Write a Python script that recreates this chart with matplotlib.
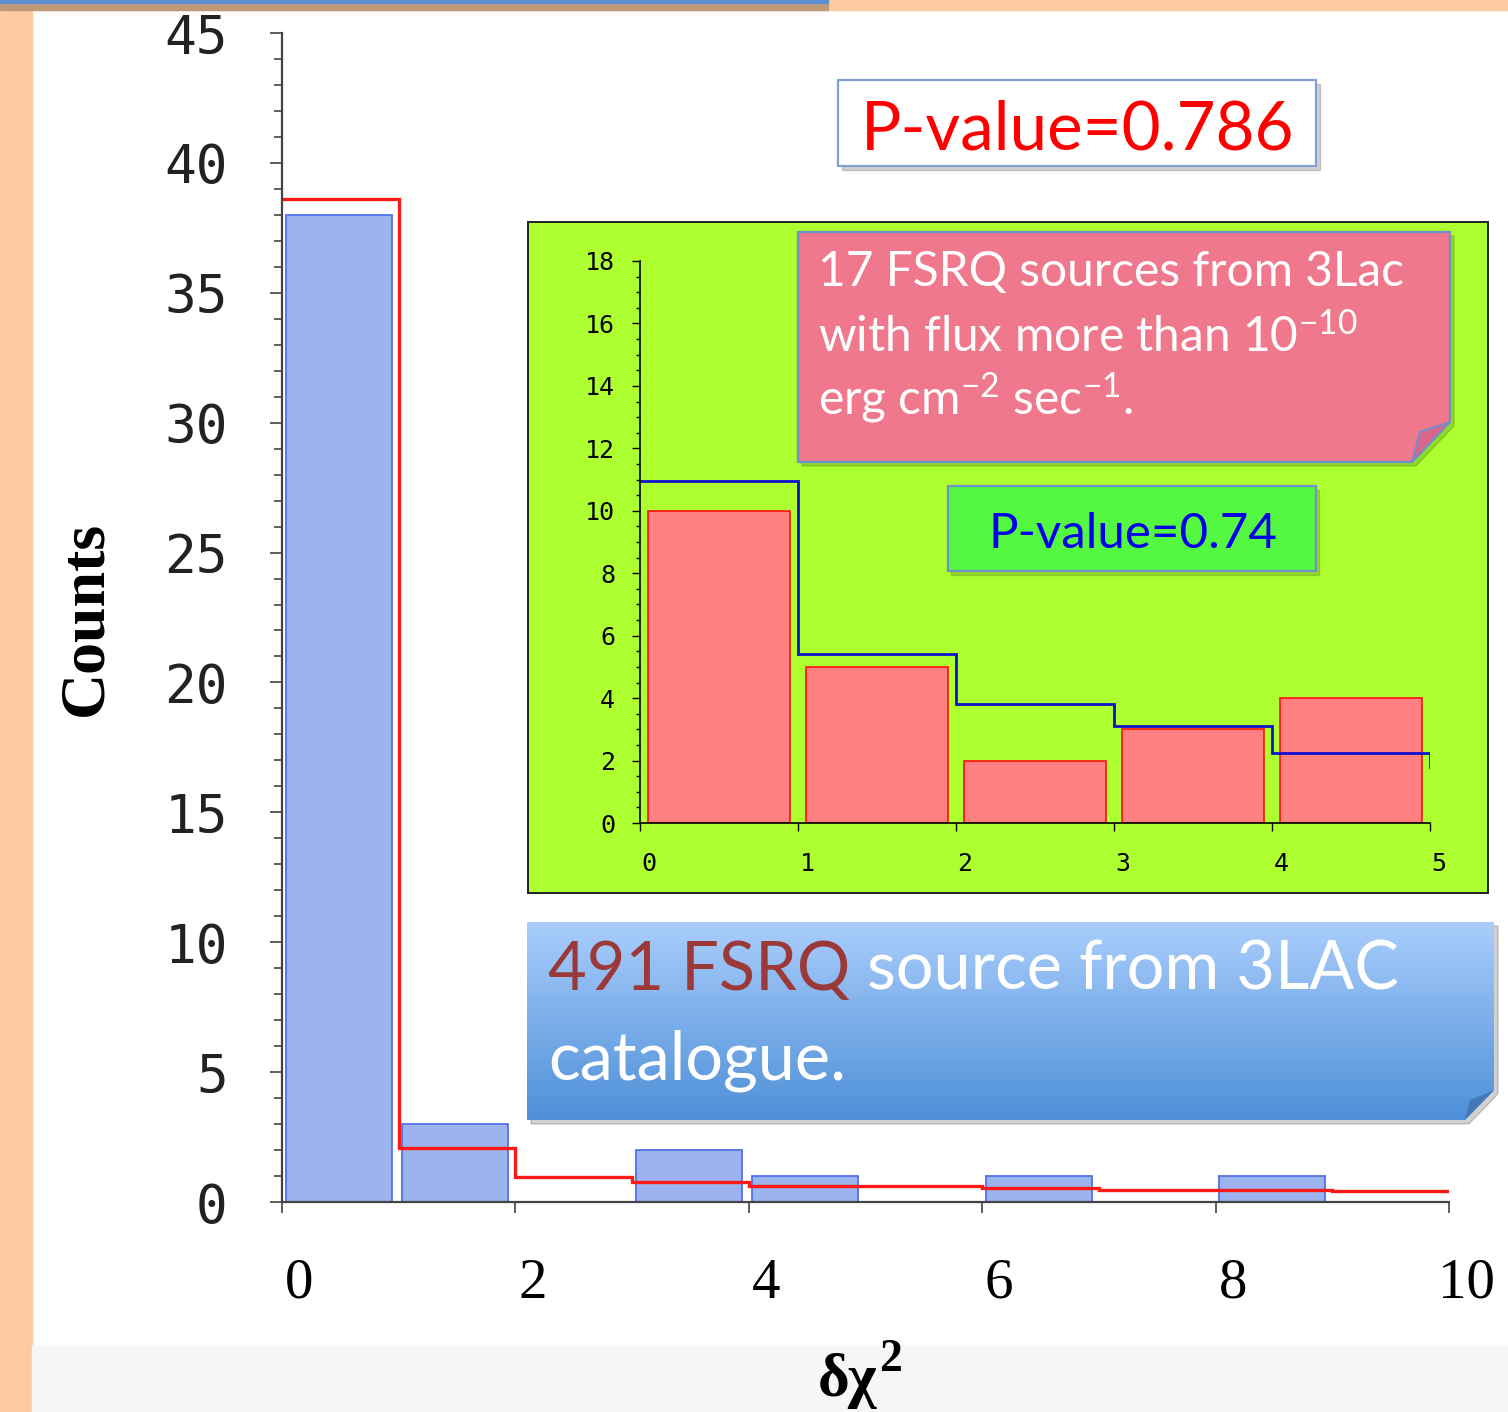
import numpy as np
import matplotlib
matplotlib.use('Agg')
import matplotlib.pyplot as plt
import matplotlib.ticker as plticker
import matplotlib.transforms as mtransforms
from matplotlib.patches import Rectangle, Polygon
from matplotlib.colors import LinearSegmentedColormap

plt.rcParams['mathtext.fontset'] = 'custom'
plt.rcParams['mathtext.rm'] = 'Lato'
plt.rcParams['mathtext.it'] = 'Lato:italic'
plt.rcParams['mathtext.bf'] = 'Lato:bold'

# main histogram: 491 FSRQ sources
main_edges = np.arange(0, 11)
main_counts = np.array([38, 3, 0, 2, 1, 0, 1, 0, 1, 0])
main_expected = np.array([38.6, 2.07, 0.96, 0.78, 0.62, 0.62, 0.55, 0.47, 0.48, 0.42])

# inset histogram: 17 bright FSRQ sources
inset_edges = np.arange(0, 6)
inset_counts = np.array([10, 5, 2, 3, 4])
inset_expected = np.array([10.95, 5.4, 3.8, 3.1, 2.25])
inset_tail = 1.8

main_pvalue = "P-value=0.786"
inset_pvalue = "P-value=0.74"

W, H = 1508, 1412
def fx(px): return px / W
def fy(py): return 1 - py / H

fig = plt.figure(figsize=(W / 100, H / 100), dpi=100)

# slide background
fig.patches.append(Rectangle((0, 0), fx(32), 1, transform=fig.transFigure,
                             color='#fcca9f', zorder=-2))
fig.patches.append(Rectangle((0, fy(10)), 1, 10 / H, transform=fig.transFigure,
                             color='#fcca9f', zorder=-2))
fig.patches.append(Rectangle((0, fy(10)), fx(828), 7 / H, transform=fig.transFigure,
                             color='#c09a78', zorder=-1))
fig.patches.append(Rectangle((0, fy(3)), fx(828), 3 / H, transform=fig.transFigure,
                             color='#5b8fd0', zorder=-1))
fig.patches.append(Rectangle((fx(32), 0), 1, 67 / H, transform=fig.transFigure,
                             color='#f6f6f6', zorder=-2))

# ---- main axes
ax = fig.add_axes([fx(282), fy(1202), fx(1449) - fx(282), (1202 - 33) / H])
ax.set_facecolor('none')
ax.set_xlim(0, 10)
ax.set_ylim(0, 45)
for s in ['top', 'right']:
    ax.spines[s].set_visible(False)
for s in ['left', 'bottom']:
    ax.spines[s].set_color('#444444')
    ax.spines[s].set_linewidth(1.6)

nz = main_counts > 0
ax.bar(main_edges[:-1][nz] + 0.03, main_counts[nz], width=0.91, align='edge',
       color='#9db3ee', edgecolor='#4f72e8', linewidth=1.3)
ax.stairs(main_expected, main_edges, baseline=None, color='#ff1a1a', linewidth=2.4)

ax.xaxis.set_major_locator(plticker.MultipleLocator(2))
ax.yaxis.set_major_locator(plticker.MultipleLocator(5))
ax.yaxis.set_minor_locator(plticker.MultipleLocator(1))
ax.tick_params(axis='y', which='major', direction='out', length=9, width=1.2,
               color='#444444', pad=30, labelsize=38)
ax.tick_params(axis='y', which='minor', direction='out', length=6, width=1.2,
               color='#444444')
ax.tick_params(axis='x', which='major', direction='out', length=8, width=1.2,
               color='#444444', pad=32, labelsize=41)
for lab in ax.get_yticklabels():
    lab.set_family('DejaVu Sans Mono')
    lab.set_color('#222222')
offset = mtransforms.ScaledTranslation(0.17, 0, fig.dpi_scale_trans)
for lab in ax.get_xticklabels():
    lab.set_family('Liberation Serif')
    lab.set_transform(lab.get_transform() + offset)

fig.text(fx(86), fy(618), 'Counts', rotation=90, ha='center', va='center',
         family='Liberation Serif', weight='bold', size=46)
t = fig.text(fx(818), fy(1396), 'δχ', ha='left', va='baseline',
             family='Liberation Serif', weight='bold', size=44)
ax.annotate('2', xy=(1, 1), xycoords=t, xytext=(1, 10), textcoords='offset points',
            ha='left', va='top', family='Liberation Serif', weight='bold', size=33,
            annotation_clip=False)

# ---- P-value box of the main histogram
fig.patches.append(Rectangle((fx(842), fy(170)), fx(478), 86 / H, transform=fig.transFigure,
                             color='#000000', alpha=0.18, zorder=2))
fig.patches.append(Rectangle((fx(838), fy(166)), fx(478), 86 / H, transform=fig.transFigure,
                             facecolor='white', edgecolor='#7fa0d2', linewidth=1.6, zorder=2))
fig.text(fx(1078), fy(130), main_pvalue, ha='center', va='center', color='#ff0000',
         family='Lato', size=48.5, zorder=3)

# ---- inset
axg = fig.add_axes([fx(528), fy(893), (1488 - 528) / W, (893 - 222) / H], zorder=1)
axg.set_facecolor('#adff2f')
axg.set_xticks([])
axg.set_yticks([])
for s in axg.spines.values():
    s.set_color('#222222')
    s.set_linewidth(1.4)

axi = fig.add_axes([fx(640), fy(823), (1430 - 640) / W, (823 - 261) / H], zorder=2)
axi.set_facecolor('none')
axi.set_xlim(0, 5)
axi.set_ylim(0, 18)
for s in ['top', 'right']:
    axi.spines[s].set_visible(False)
for s in ['left', 'bottom']:
    axi.spines[s].set_color('black')
    axi.spines[s].set_linewidth(1.2)
axi.bar(inset_edges[:-1] + 0.05, inset_counts, width=0.9, align='edge',
        color='#ff8080', edgecolor='#ff1010', linewidth=1.2)
axi.stairs(inset_expected, inset_edges, baseline=None, color='#1010cc', linewidth=2)
axi.plot([inset_edges[-1]] * 2, [inset_expected[-1], inset_tail], color='#1010cc',
         linewidth=2)
axi.xaxis.set_major_locator(plticker.MultipleLocator(1))
axi.yaxis.set_major_locator(plticker.MultipleLocator(2))
axi.yaxis.set_minor_locator(plticker.MultipleLocator(0.5))
axi.tick_params(axis='both', which='major', direction='out', length=6, width=1,
                labelsize=18)
axi.tick_params(axis='y', which='major', pad=12)
axi.tick_params(axis='x', which='major', pad=15)
axi.tick_params(axis='y', which='minor', direction='out', length=3, width=1)
for lab in axi.get_yticklabels():
    lab.set_family('DejaVu Sans Mono')
ioff = mtransforms.ScaledTranslation(0.09, 0, fig.dpi_scale_trans)
for lab in axi.get_xticklabels():
    lab.set_family('DejaVu Sans Mono')
    lab.set_transform(lab.get_transform() + ioff)

# pink note with folded corner
def px_poly(pts, **kw):
    return Polygon([(fx(x), fy(y)) for x, y in pts], closed=True,
                   transform=fig.transFigure, **kw)

fig.patches.append(px_poly([(802, 236), (1454, 236), (1454, 426), (1416, 466), (802, 466)],
                           color='#000000', alpha=0.15, zorder=3))
fig.patches.append(px_poly([(798, 232), (1450, 232), (1450, 422), (1412, 462), (798, 462)],
                           facecolor='#ef788d', edgecolor='#6f90ca', linewidth=1.6, zorder=3))
fig.patches.append(px_poly([(1412, 462), (1420, 432), (1450, 422)],
                           facecolor='#d9658a', edgecolor='#6f90ca', linewidth=1.4, zorder=3))
note = ["17 FSRQ sources from 3Lac",
        "with flux more than 10$^{-10}$",
        "erg cm$^{-2}$ sec$^{-1}$."]
for line, base in zip(note, [286, 351, 414]):
    fig.text(fx(818), fy(base), line, ha='left', va='baseline', color='white',
             family='Lato', size=34.5, zorder=4)

# green P-value box
fig.patches.append(Rectangle((fx(951), fy(575)), fx(368), 85 / H, transform=fig.transFigure,
                             color='#000000', alpha=0.15, zorder=3))
fig.patches.append(Rectangle((fx(948), fy(571)), fx(368), 85 / H, transform=fig.transFigure,
                             facecolor='#55f840', edgecolor='#6f90ca', linewidth=1.6, zorder=3))
fig.text(fx(1133), fy(534), inset_pvalue, ha='center', va='center', color='#0000ee',
         family='Lato', size=35.5, zorder=4)

# ---- blue gradient note
fig.patches.append(px_poly([(531, 926), (1498, 926), (1498, 1094), (1469, 1124), (531, 1124)],
                           color='#000000', alpha=0.18, zorder=3))
axb = fig.add_axes([fx(527), fy(1120), (1494 - 527) / W, (1120 - 922) / H], zorder=4)
axb.axis('off')
axb.set_xlim(0, 1)
axb.set_ylim(0, 1)
cmap = LinearSegmentedColormap.from_list('note', ['#4f90d8', '#a9cdfc'])
im = axb.imshow(np.linspace(0, 1, 100)[:, None], extent=[0, 1, 0, 1], origin='lower',
                aspect='auto', cmap=cmap, zorder=1)
clip = Polygon([(0, 0), (0, 1), (1, 1), (1, 0.15), (0.97, 0)], closed=True,
               transform=axb.transAxes, facecolor='none', edgecolor='none')
axb.add_patch(clip)
im.set_clip_path(clip)
axb.add_patch(Polygon([(0.97, 0), (0.975, 0.1), (1, 0.15)], closed=True,
                      transform=axb.transAxes, facecolor='#4678b8', edgecolor='none', zorder=2))
t1 = fig.text(fx(548), fy(990), '491 FSRQ', ha='left', va='baseline', color='#9b3838',
              family='Lato', size=48, zorder=6)
fig.texts.append(matplotlib.text.Annotation(' source from 3LAC', xy=(1, 0), xycoords=t1,
                                            ha='left', va='bottom', color='white',
                                            family='Lato', size=48, zorder=6))
fig.texts[-1].set_figure(fig)
fig.text(fx(548), fy(1080), 'catalogue.', ha='left', va='baseline', color='white',
         family='Lato', size=48, zorder=6)

plt.savefig('out.png', dpi=100)
